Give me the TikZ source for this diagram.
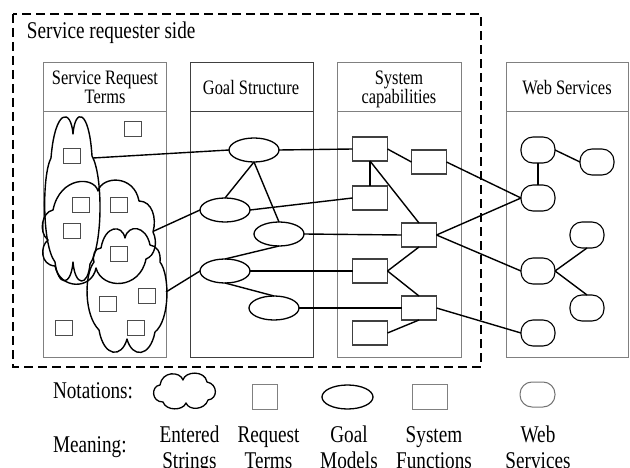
\documentclass[tikz,border=0pt]{standalone}
\usepackage{fontspec}
\setmainfont{Liberation Serif}[FakeStretch=0.8]
\usetikzlibrary{shapes.geometric}

\begin{document}
\begin{tikzpicture}[x=1pt,y=-1pt,
  every node/.style={inner sep=0pt, outer sep=0pt},
  link/.style={line width=1.4pt},
  colbox/.style={draw=gray, line width=1pt},
  cloudline/.style={line width=1.4pt, line join=round},
  term/.style={draw=black!70, line width=1pt, minimum width=17pt, minimum height=15pt},
  goal/.style={ellipse, draw, line width=1.3pt, minimum width=50pt, minimum height=24pt},
  func/.style={draw=black!75, line width=1.2pt, minimum width=35pt, minimum height=24pt},
  websvc/.style={draw, rounded corners=12pt, line width=1.1pt, minimum width=34pt, minimum height=26pt},
  hdr/.style={font=\fontsize{20.5}{19.5}\selectfont, align=center, anchor=base},
  lbl/.style={font=\fontsize{24}{26}\selectfont, align=center, anchor=base},
]
\useasboundingbox (0,0) rectangle (630,468);

% dashed boundary of the requester side
\draw[line width=1.5pt, dash pattern=on 9pt off 5pt] (13,14) rectangle (481,367);
\node[anchor=base west, font=\fontsize{24}{24}\selectfont] (side) at (27,39) {Service requester side};

% columns
\draw[colbox] (43,63) rectangle (166,357); \draw[colbox] (43,112) -- (166,112);
\draw[colbox, draw=black!75] (190,63) rectangle (313,357); \draw[colbox, draw=black!75] (190,112) -- (313,112);
\draw[colbox] (337,63) rectangle (461,357); \draw[colbox] (337,112) -- (461,112);
\draw[colbox] (506,63) rectangle (628,357); \draw[colbox] (506,112) -- (628,112);

% headers (base anchor sits on the last line)
\node[hdr] (h1) at (105,104) {Service Request\\Terms};
\node[hdr] (h2) at (251,95) {Goal Structure};
\node[hdr] (h3) at (399,104) {System\\capabilities};
\node[hdr] (h4) at (567,95) {Web Services};

% entered strings (three overlapping clouds)
\draw[cloudline] (73,134) .. controls (75,108) and (89,108) .. (92,156)
  .. controls (103,175) and (103,245) .. (90,264)
  .. controls (88,287) and (75,287) .. (73,262)
  .. controls (71,287) and (58,287) .. (55,262)
  .. controls (42,245) and (42,175) .. (51,158)
  .. controls (55,108) and (71,108) .. cycle;
\draw[cloudline] (98,191) .. controls (102,176) and (134,174) .. (139,201)
  .. controls (152,201) and (157,218) .. (153,232)
  .. controls (158,242) and (155,256) .. (146,259)
  .. controls (140,290) and (102,290) .. (96,268)
  .. controls (92,290) and (60,290) .. (55,266)
  .. controls (40,265) and (40,246) .. (48,240)
  .. controls (38,232) and (42,212) .. (53,210)
  .. controls (60,176) and (94,176) .. cycle;
\draw[cloudline] (125,238) .. controls (128,224) and (146,225) .. (150,245)
  .. controls (157,246) and (161,252) .. (160,262)
  .. controls (170,275) and (170,320) .. (155,332)
  .. controls (150,358) and (132,358) .. (127,339)
  .. controls (122,358) and (104,358) .. (99,330)
  .. controls (84,315) and (84,275) .. (94,262)
  .. controls (92,255) and (95,248) .. (101,248)
  .. controls (105,225) and (122,224) .. cycle;
\coordinate (c1) at (93,158);
\coordinate (c2) at (154,231);
\coordinate (c3) at (166,292);

% request terms
\node[term] (t1) at (133,129) {};
\node[term] (t2) at (72,156) {};
\node[term] (t3) at (81,205) {};
\node[term] (t4) at (119,205) {};
\node[term] (t5) at (72,231) {};
\node[term] (t6) at (119,254) {};
\node[term] (t7) at (147,296) {};
\node[term] (t8) at (108,304) {};
\node[term] (t9) at (64,328) {};
\node[term] (t10) at (136,328) {};

% goal models
\node[goal] (g1) at (254,150) {};
\node[goal] (g2) at (225,210) {};
\node[goal] (g3) at (279,234) {};
\node[goal] (g4) at (225,271) {};
\node[goal] (g5) at (274,308) {};

% system functions
\node[func] (s1) at (370,149) {};
\node[func] (s2) at (429,162) {};
\node[func] (s3) at (370,198) {};
\node[func] (s4) at (419,235) {};
\node[func] (s5) at (370,271) {};
\node[func] (s6) at (419,308) {};
\node[func] (s7) at (370,333) {};

% web services
\node[websvc] (w1) at (538,150) {};
\node[websvc] (w2) at (597,162) {};
\node[websvc] (w3) at (538,198) {};
\node[websvc] (w4) at (587,235) {};
\node[websvc] (w5) at (538,271) {};
\node[websvc] (w6) at (587,308) {};
\node[websvc] (w7) at (538,333) {};

% links
\draw[link] (c1) -- (g1.west);
\draw[link] (c2) -- (g2.west);
\draw[link] (c3) -- (g4.west);
\draw[link] (g1.south) -- (g2.north);
\draw[link] (g1.south) -- (g3.north);
\draw[link] (g4.north) -- (g3.south);
\draw[link] (g4.south) -- (g5.north);
\draw[link] (g1.east) -- (s1.west);
\draw[link] (g2.east) -- (s3.west);
\draw[link] (g3.east) -- (s4.west);
\draw[link] (g4.east) -- (s5.west);
\draw[link] (g5.east) -- (s6.west);
\draw[link] (s1.east) -- (s2.west);
\draw[link] (s1.south) -- (s3.north);
\draw[link] (s1.south) -- (s4.north);
\draw[link] (s5.east) -- (s4.south);
\draw[link] (s5.east) -- (s6.north);
\draw[link] (s7.east) -- (s6.south);
\draw[link] (s2.east) -- (w3.west);
\draw[link] (s4.east) -- (w3.west);
\draw[link] (s4.east) -- (w5.west);
\draw[link] (s6.east) -- (w7.west);
\draw[link] (w1.east) -- (w2.west);
\draw[link] (w1.south) -- (w3.north);
\draw[link] (w5.east) -- (w4.south);
\draw[link] (w5.east) -- (w6.north);

% legend
\node[lbl, anchor=base west] (notations) at (53,398) {Notations:};
\draw[cloudline, line width=1.3pt] (183,380) .. controls (185,371) and (205,370) .. (207,382)
  .. controls (218,384) and (218,399) .. (208,400)
  .. controls (205,410) and (189,411) .. (186,403)
  .. controls (183,411) and (166,411) .. (163,402)
  .. controls (151,402) and (151,386) .. (160,385)
  .. controls (162,371) and (180,371) .. cycle;
\node[draw=gray, line width=1pt, minimum width=25pt, minimum height=25pt] (lt) at (264.5,396.5) {};
\node[ellipse, draw, line width=1.3pt, minimum width=51pt, minimum height=24pt] (lg) at (347.5,397) {};
\node[draw=gray, line width=1pt, minimum width=35pt, minimum height=25pt] (lf) at (429.5,396.5) {};
\node[draw=black!55, rounded corners=12pt, line width=1pt, minimum width=35pt, minimum height=25pt] (lw) at (537.5,394.5) {};

\node[lbl, anchor=base west] (meaning) at (53,452) {Meaning:};
\node[lbl] (m1) at (189.5,468) {Entered\\Strings};
\node[lbl] (m2) at (268.5,468) {Request\\Terms};
\node[lbl] (m3) at (349,468) {Goal\\Models};
\node[lbl] (m4) at (434,468) {System\\Functions};
\node[lbl] (m5) at (538,468) {Web\\Services};
\end{tikzpicture}
\end{document}
